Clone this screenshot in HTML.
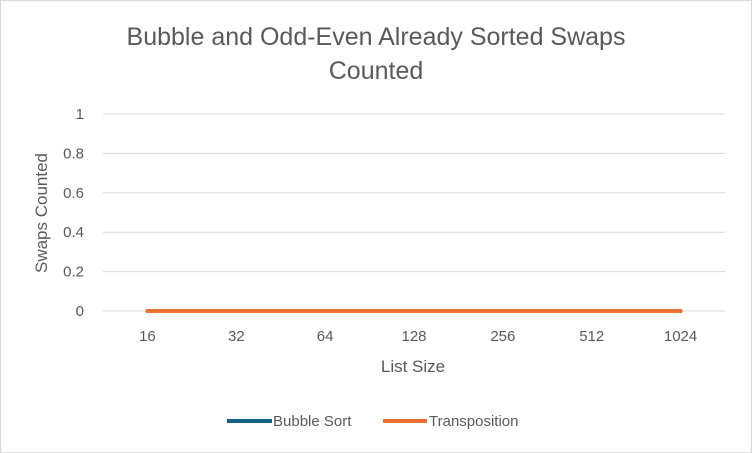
<!DOCTYPE html>
<html><head><meta charset="utf-8"><style>
html,body{margin:0;padding:0;background:#fff;}
svg{display:block;font-family:"Liberation Sans",sans-serif;}
</style></head><body>
<svg id="chart" width="752" height="453">
<rect x="0.5" y="0.5" width="751" height="452" fill="#fff" stroke="#d9d9d9"/>
<text x="376" y="45" text-anchor="middle" font-size="25" fill="#595959">Bubble and Odd-Even Already Sorted Swaps</text>
<text x="376" y="79" text-anchor="middle" font-size="25" fill="#595959">Counted</text>
<g id="grid"></g><g id="yticks"></g><g id="xticks"></g><g id="series"></g>
<text transform="translate(47,213) rotate(-90)" text-anchor="middle" font-size="17" fill="#595959">Swaps Counted</text>
<text x="413" y="372" text-anchor="middle" font-size="17" fill="#595959">List Size</text>
<g>
<line x1="227" y1="421" x2="272" y2="421" stroke="#156082" stroke-width="4"/>
<text x="273" y="426" font-size="15" fill="#595959">Bubble Sort</text>
<line x1="383" y1="421" x2="427" y2="421" stroke="#e97132" stroke-width="4"/>
<text x="429" y="426" font-size="15" fill="#595959">Transposition</text>
</g>
</svg>
<script>
const categories = ["16","32","64","128","256","512","1024"];
const bubbleValues = [0,0,0,0,0,0,0];
const transpositionValues = [0,0,0,0,0,0,0];
const yTicks = [0,0.2,0.4,0.6,0.8,1];
const yTickLabels = ["0","0.2","0.4","0.6","0.8","1"];
const NS="http://www.w3.org/2000/svg";
const plotLeft=103,plotRight=725,plotTop=114,plotBottom=311;
const band=(plotRight-plotLeft)/categories.length;
function xPos(i){return plotLeft+band*(i+0.5);}
function yPos(v){return plotBottom-(v/1)*(plotBottom-plotTop);}
function mk(tag,attrs,parent){const e=document.createElementNS(NS,tag);for(const k in attrs)e.setAttribute(k,attrs[k]);document.getElementById(parent).appendChild(e);return e;}
yTicks.forEach((t,i)=>{
  const g=mk("line",{x1:plotLeft,x2:plotRight,y1:yPos(t),y2:yPos(t),stroke:"#d9d9d9","stroke-width":1},"grid");
  
  
  const l=mk("text",{x:84,y:yPos(t)+5,"text-anchor":"end","font-size":15,fill:"#595959"},"yticks");
  l.textContent=yTickLabels[i];
  
  
});
categories.forEach((c,i)=>{
  const l=mk("text",{x:xPos(i),y:341,"text-anchor":"middle","font-size":15,fill:"#595959"},"xticks");
  l.textContent=c;
  
  
});
function drawSeries(vals,color,name){
  const pts=vals.map((v,i)=>xPos(i)+","+yPos(v)).join(" ");
  const p=mk("polyline",{points:pts,fill:"none",stroke:color,"stroke-width":4,"stroke-linecap":"round"},"series");
  
  
}
drawSeries(bubbleValues,"#156082","series-bubble-sort");
drawSeries(transpositionValues,"#e97132","series-transposition");
</script>
</body></html>
